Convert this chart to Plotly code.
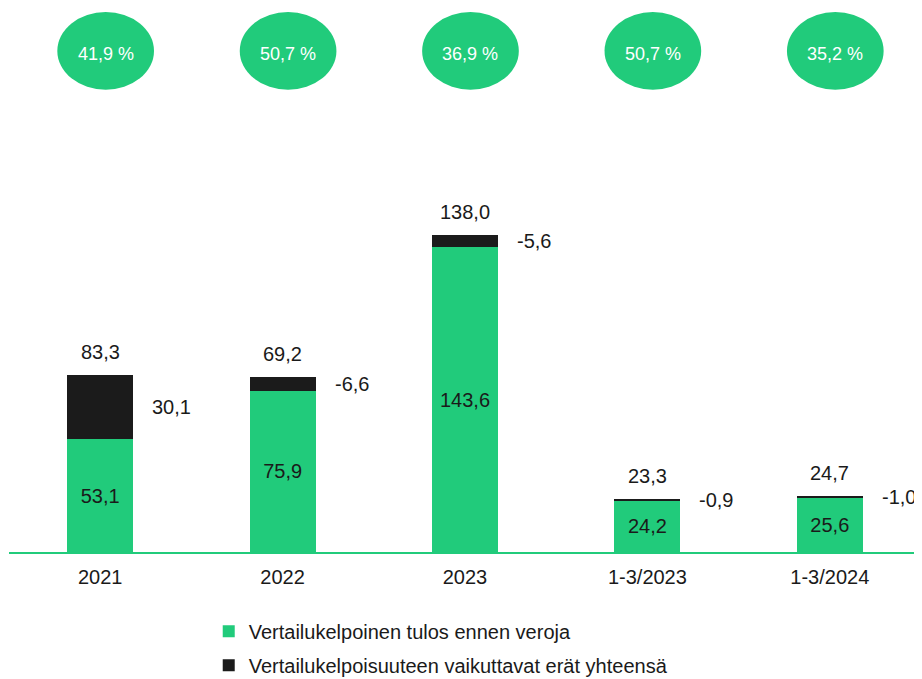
import plotly.graph_objects as go

categories = ["2021", "2022", "2023", "1-3/2023", "1-3/2024"]
comparable_profit = [53.1, 75.9, 143.6, 24.2, 25.6]
items_affecting = [30.1, -6.6, -5.6, -0.9, -1.0]
totals = [83.3, 69.2, 138.0, 23.3, 24.7]
percentages = [41.9, 50.7, 36.9, 50.7, 35.2]

series_names = ["Vertailukelpoinen tulos ennen veroja",
                "Vertailukelpoisuuteen vaikuttavat erät yhteensä"]

GREEN = "#21CB7B"
BLACK = "#1B1B1B"
TEXT = "#1A1A1A"
FONT = "Arial, Liberation Sans, sans-serif"


def fmt(v):
    return f"{v:.1f}".replace(".", ",")


fig = go.Figure()
fig.add_trace(go.Bar(
    x=categories, y=comparable_profit, name=series_names[0],
    legendgroup="g1",
    marker=dict(color=GREEN, line=dict(width=0)),
    text=[fmt(v) for v in comparable_profit],
    textposition="inside", insidetextanchor="middle",
    textfont=dict(size=20, color=TEXT, family=FONT),
    constraintext="none",
))
fig.add_trace(go.Bar(
    x=categories, y=[abs(v) for v in items_affecting], name=series_names[1],
    legendgroup="g2",
    marker=dict(color=BLACK, line=dict(width=0)),
))

annotations = []
for i, c in enumerate(categories):
    top = comparable_profit[i] + abs(items_affecting[i])
    annotations.append(dict(
        x=i, y=top, xref="x", yref="y", text=fmt(totals[i]), showarrow=False,
        yshift=23, yanchor="middle", xanchor="center",
        font=dict(size=20, color=TEXT, family=FONT)))
    annotations.append(dict(
        x=i, y=comparable_profit[i] + abs(items_affecting[i]) / 2,
        xref="x", yref="y", text=fmt(items_affecting[i]), showarrow=False,
        xshift=50, xanchor="left", yanchor="middle",
        font=dict(size=20, color=TEXT, family=FONT)))
    annotations.append(dict(
        x=i + 0.03, y=234.5, xref="x", yref="y", text=f"{fmt(percentages[i])} %",
        showarrow=False, xanchor="center", yanchor="middle",
        font=dict(size=18, color="white", family=FONT)))

shapes = []
for i, c in enumerate(categories):
    shapes.append(dict(
        type="circle", xref="x", yref="y",
        x0=i + 0.03 - 0.265, x1=i + 0.03 + 0.265,
        y0=236 - 18.3, y1=236 + 18.3,
        fillcolor=GREEN, line=dict(width=0), layer="below"))

fig.update_layout(
    width=914, height=671,
    barmode="stack", bargap=0.638,
    plot_bgcolor="white", paper_bgcolor="white",
    margin=dict(l=1, r=1, t=0, b=127, autoexpand=False),
    font=dict(family=FONT, size=20, color=TEXT),
    showlegend=True,
    legend=dict(orientation="v", x=0.219, y=-0.110, xanchor="left", yanchor="top",
                traceorder="grouped", tracegroupgap=5,
                font=dict(size=20, color=TEXT, family=FONT),
                bgcolor="rgba(0,0,0,0)"),
    annotations=annotations,
    shapes=shapes,
)
fig.update_xaxes(type="category", showline=True, linecolor=GREEN, linewidth=2,
                 ticks="", showgrid=False, zeroline=False, ticklabelstandoff=6,
                 tickfont=dict(size=20, color=TEXT, family=FONT))
fig.update_yaxes(visible=False, range=[0, 256.2], showgrid=False, zeroline=False)

fig.write_html("out.html")
